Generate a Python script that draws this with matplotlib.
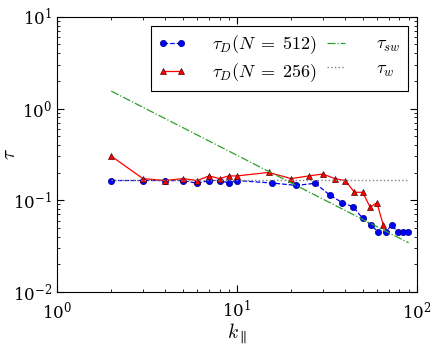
import matplotlib
matplotlib.use("Agg")
import matplotlib.pyplot as plt

plt.rcParams['mathtext.fontset'] = 'cm'
plt.rcParams['font.family'] = 'serif'
plt.rcParams['font.serif'] = ['DejaVu Serif']

k_512 = [2, 3, 4, 5, 6, 7, 8, 9, 10, 15.7, 21.4, 27.2, 32.8, 38.5, 44.3, 49.9, 55.5, 61.2, 67, 72.6, 78.4, 84, 89.9]
tau_512 = [0.164, 0.164, 0.164, 0.164, 0.153, 0.164, 0.164, 0.154, 0.164, 0.154, 0.145, 0.153, 0.114, 0.094, 0.0845,
           0.0637, 0.054, 0.0446, 0.0446, 0.054, 0.0446, 0.0446, 0.0446]

k_256 = [2, 3, 4, 5, 6, 7, 8, 9, 10, 15, 20, 25, 30, 35, 40, 45, 50, 55, 60, 65]
tau_256 = [0.303, 0.172, 0.164, 0.172, 0.164, 0.184, 0.172, 0.184, 0.184, 0.201, 0.172, 0.184, 0.193, 0.172, 0.164,
           0.122, 0.122, 0.084, 0.094, 0.054]

k_sw = [2, 90]
tau_sw = [1.55, 0.0343]

k_w = [2, 90]
tau_w = [0.165, 0.165]

fig = plt.figure(figsize=(4.36, 3.45), dpi=100)
ax = fig.add_axes([0.131, 0.154, 0.825, 0.797])

ax.plot(k_512, tau_512, 'b--', marker='o', markersize=4.5, linewidth=0.9, markeredgecolor='#000080',
        markeredgewidth=0.5, label=r'$\tau_D(N\;=\;512)$')
ax.plot(k_256, tau_256, 'r-', marker='^', markersize=4.5, linewidth=0.9, markeredgecolor='#550000', markeredgewidth=0.5,
        label=r'$\tau_D(N\;=\;256)$')
ax.plot(k_sw, tau_sw, color='#2ca02c', linestyle='-.', linewidth=0.9, label=r'$\tau_{sw}$')
ax.plot(k_w, tau_w, color='gray', linestyle=':', linewidth=1.0, label=r'$\tau_w$')

ax.set_xscale('log')
ax.set_yscale('log')
ax.set_xlim(1, 100)
ax.set_ylim(0.01, 10)
ax.tick_params(which='both', direction='in', top=True, right=True, labelsize=12)
ax.tick_params(which='major', length=5)
ax.tick_params(which='minor', length=2.5)
ax.tick_params(axis='x', pad=6)

ax.set_xlabel(r'$k_\parallel$', fontsize=14, labelpad=0)
ax.set_ylabel(r'$\tau$', fontsize=14)
ax.yaxis.set_label_coords(-0.105, 0.5)

leg = ax.legend(ncol=2, loc='upper right', fontsize=13, numpoints=2, fancybox=False, edgecolor='black',
                framealpha=1, handlelength=1.6, columnspacing=0.3, borderaxespad=0.5, labelspacing=0.3,
                handletextpad=1.4)
leg.get_frame().set_linewidth(0.8)

fig.savefig('out.png', dpi=100)
